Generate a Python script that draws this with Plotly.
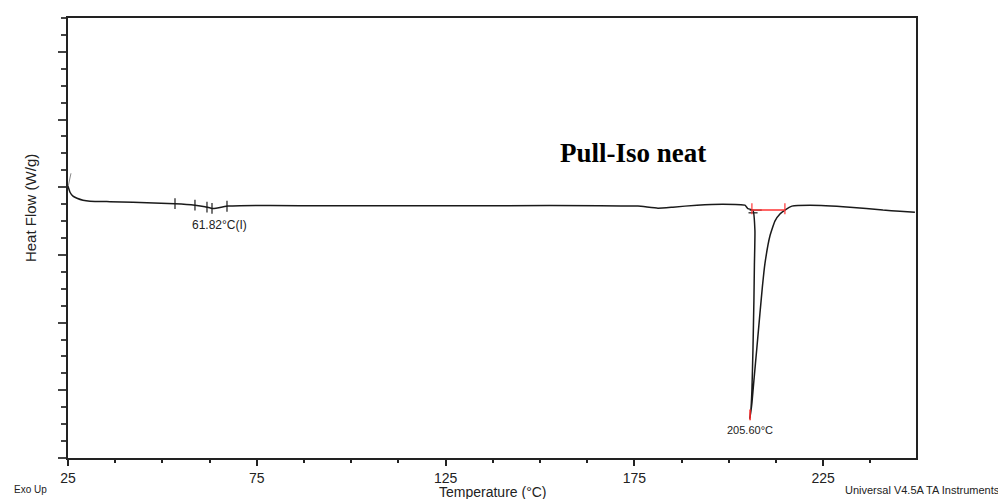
import numpy as np
import plotly.graph_objects as go

# ---- data (Temperature in °C, Heat Flow in W/g) ----
temperature = [25.0, 25.53, 26.32, 27.38, 28.97, 30.83, 36.12, 42.21, 53.34, 58.63,
               61.28, 63.40, 67.37, 70.55, 86.44, 112.92, 139.41, 165.89, 175.95,
               181.25, 185.22, 191.58, 198.46, 204.29, 205.08, 206.41, 206.94,
               206.80, 206.67, 206.41, 206.14, 205.87, 205.60,
               206.14, 206.67, 207.46, 208.26, 208.90, 209.58, 210.91, 212.23, 213.56,
               214.88, 216.74, 221.50, 232.10, 240.84, 245.34, 249.31]
heat_flow = [0.015, -0.074, -0.132, -0.162, -0.191, -0.206, -0.213, -0.221, -0.243, -0.265,
             -0.287, -0.316, -0.279, -0.272, -0.272, -0.272, -0.272, -0.272, -0.279,
             -0.309, -0.294, -0.265, -0.250, -0.265, -0.316, -0.338, -0.647,
             -1.150, -1.676, -2.412, -3.000, -3.294, -3.412,
             -3.191, -2.853, -2.368, -1.868, -1.480, -1.132, -0.721, -0.500, -0.397,
             -0.338, -0.279, -0.265, -0.294, -0.338, -0.353, -0.368]

start_spike_T = [25.0, 25.79]
start_spike_HF = [0.0, 0.206]

tg_marks_T = [53.34, 58.63, 61.81, 63.14, 67.11]
tg_label = "61.82°C(I)"
tg_label_T, tg_label_HF = 65.1, -0.56

onset_T = [206.14, 214.88]
onset_HF = -0.338
peak_T = 205.60
peak_HF = -3.412
peak_label = "205.60°C"

x_ticks = [25, 75, 125, 175, 225]
title_text = "Pull-Iso neat"
title_T, title_HF = 174.6, 0.5

fig = go.Figure()

# spike at start
fig.add_trace(go.Scatter(x=start_spike_T, y=start_spike_HF, mode="lines",
                         line=dict(color="#888888", width=1), hoverinfo="skip"))
# main curve
fig.add_trace(go.Scatter(x=temperature, y=heat_flow, mode="lines",
                         line=dict(color="#1a1a1a", width=1.5, shape="spline", smoothing=0.4),
                         hoverinfo="skip"))

# glass transition tick marks on the curve
hf_interp = np.interp(tg_marks_T, temperature[:20], heat_flow[:20])
half = 0.08
mx, my = [], []
for t, h in zip(tg_marks_T, hf_interp):
    mx += [t, t, None]
    my += [h + half, h - half, None]
fig.add_trace(go.Scatter(x=mx, y=my, mode="lines",
                         line=dict(color="#1a1a1a", width=1.2), hoverinfo="skip"))

# onset black cross lines
fig.add_trace(go.Scatter(x=[onset_T[0] - 0.6, onset_T[0] + 2.6, None, onset_T[0] - 0.9, onset_T[0] + 1.5],
                         y=[onset_HF, onset_HF, None, onset_HF - 0.04, onset_HF - 0.04],
                         mode="lines", line=dict(color="#1a1a1a", width=1.2), hoverinfo="skip"))
# red baseline between onset and end
fig.add_trace(go.Scatter(x=onset_T, y=[onset_HF, onset_HF], mode="lines",
                         line=dict(color="#ff3333", width=1.5), hoverinfo="skip"))
rx, ry = [], []
for t in onset_T:
    rx += [t, t, None]
    ry += [onset_HF + 0.1, onset_HF - 0.06, None]
fig.add_trace(go.Scatter(x=rx, y=ry, mode="lines",
                         line=dict(color="#ff3333", width=1.2), hoverinfo="skip"))
# red peak mark
fig.add_trace(go.Scatter(x=[peak_T + 0.05, peak_T + 0.05], y=[peak_HF + 0.13, peak_HF - 0.03],
                         mode="lines", line=dict(color="#ff2222", width=1.5), hoverinfo="skip"))

fig.add_annotation(x=tg_label_T, y=tg_label_HF, text=tg_label, showarrow=False,
                   font=dict(family="Arial, Liberation Sans", size=12, color="#222"))
fig.add_annotation(x=peak_T, y=peak_HF - 0.18, text=peak_label, showarrow=False,
                   font=dict(family="Arial, Liberation Sans", size=11, color="#222"))
fig.add_annotation(x=title_T, y=title_HF, text="<b>" + title_text + "</b>", showarrow=False,
                   font=dict(family="Liberation Serif, Times New Roman", size=27, color="black"))

# paper annotations
fig.add_annotation(xref="paper", yref="paper", x=-0.0448, y=0.568, xanchor="center",
                   yanchor="middle", text="Heat Flow (W/g)",
                   textangle=-90, showarrow=False,
                   font=dict(family="Arial, Liberation Sans", size=15, color="#222"))
fig.add_annotation(xref="paper", yref="paper", x=0.501, y=-0.077, yanchor="middle",
                   text="Temperature (°C)", showarrow=False,
                   font=dict(family="Arial, Liberation Sans", size=14, color="#222"))
fig.add_annotation(xref="paper", yref="paper", x=-0.066, y=-0.072, yanchor="middle", xanchor="left",
                   text="Exo Up", showarrow=False,
                   font=dict(family="Arial, Liberation Sans", size=10, color="#222"))
fig.add_annotation(xref="paper", yref="paper", x=1.102, y=-0.072, yanchor="middle", xanchor="right",
                   text="Universal V4.5A TA Instruments", showarrow=False,
                   font=dict(family="Arial, Liberation Sans", size=11, color="#222"))

fig.update_layout(
    width=998, height=491,
    margin=dict(l=60, r=90, t=8, b=41),
    paper_bgcolor="white", plot_bgcolor="white",
    showlegend=False,
    xaxis=dict(range=[25, 249.6], tickvals=x_ticks, ticktext=[str(v) for v in x_ticks],
               ticks="outside", ticklen=6, tickwidth=1.5, tickcolor="#222",
               showline=True, linecolor="#222", linewidth=1.5, mirror=True,
               showgrid=False, zeroline=False,
               tickfont=dict(family="Arial, Liberation Sans", size=14, color="#222"),
               minor=dict(dtick=12.5, tick0=25, ticks="outside", ticklen=3, tickwidth=1.5,
                          tickcolor="#222", showgrid=False)),
    yaxis=dict(range=[-4, 2.5], dtick=1, tick0=0, ticks="outside", ticklen=8, tickwidth=1.5,
               tickcolor="#444", showticklabels=False,
               showline=True, linecolor="#222", linewidth=1.5, mirror=True,
               showgrid=False, zeroline=False,
               minor=dict(dtick=0.25, tick0=0, ticks="outside", ticklen=5, tickwidth=1.5,
                          tickcolor="#444", showgrid=False)),
)

fig.write_html("out.html")
